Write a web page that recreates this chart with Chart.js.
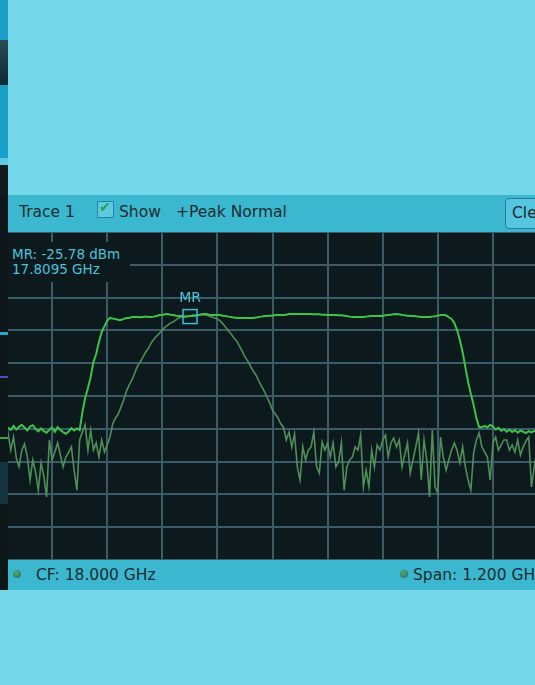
<!DOCTYPE html>
<html>
<head>
<meta charset="utf-8">
<script src="https://cdn.jsdelivr.net/npm/chart.js@4"></script>
<style>
  html, body { margin: 0; padding: 0; }
  body { width: 535px; height: 685px; overflow: hidden; position: relative; background: #74d8ea; font-family: "DejaVu Sans", sans-serif; }
  .abs { position: absolute; white-space: nowrap; }
  #strip { left: 0; top: 0; width: 8px; height: 685px; background: #1aa0c8; }
  #header { left: 8px; top: 195px; width: 527px; height: 37px; background: #3bb8cf; color: #1b2b30; font-size: 15.5px; }
  #footer { left: 8px; top: 560px; width: 527px; height: 30px; background: #3bb8cf; color: #1b2b30; font-size: 15.5px; overflow: hidden; }
  #plotwrap { left: 8px; top: 232px; width: 527px; height: 328px; overflow: hidden; background: #0d1a1d; }
  #chartbox { position: absolute; left: -11px; top: 0; width: 551px; height: 328px; }
  .chk { width: 15px; height: 15px; border: 1px solid #2b7fa8; background: #5ccbe0; }
  .led { width: 8px; height: 8px; border-radius: 50%; background: radial-gradient(circle at 40% 35%, #4fb060, #2f5e77); }
  #readout { left: 8px; top: 242px; width: 122px; height: 40px; background: #0d1a1d; color: #4cc2dc; font-size: 13.5px; line-height: 15px; padding-left: 4px; box-sizing: border-box; padding-top: 5px; }
</style>
</head>
<body>
<div id="strip" class="abs"></div>
<div class="abs" style="left:0;top:40px;width:8px;height:45px;background:linear-gradient(#2a4a55,#0f2a33);"></div>
<div class="abs" style="left:0;top:158px;width:8px;height:7px;background:#5fcbe2;"></div>
<div class="abs" style="left:0;top:165px;width:8px;height:30px;background:#111b1e;"></div>
<div class="abs" style="left:0;top:195px;width:8px;height:395px;background:#0d1719;"></div>
<div class="abs" style="left:0;top:332px;width:8px;height:3px;background:#2aa8d0;"></div>
<div class="abs" style="left:0;top:376px;width:8px;height:2px;background:#5a48b8;"></div>
<div class="abs" style="left:0;top:437px;width:8px;height:2px;background:#3aa050;"></div>
<div class="abs" style="left:0;top:462px;width:8px;height:42px;background:#143440;"></div>
<div class="abs" style="left:0;top:590px;width:8px;height:95px;background:#74d8ea;"></div>

<div id="header" class="abs">
  <span class="abs" style="left:11px;top:8px;">Trace 1</span>
  <div class="abs chk" style="left:89px;top:6px;"><span style="position:absolute;left:1px;top:-3px;color:#2aa04a;font-size:14px;">✔</span></div>
  <span class="abs" style="left:111px;top:8px;">Show</span>
  <span class="abs" style="left:168px;top:8px;">+Peak Normal</span>
  <div class="abs" style="left:497px;top:3px;width:60px;height:29px;border:1px solid #2a7a9e;border-radius:4px;background:#55c6de;">
    <span class="abs" style="left:6px;top:5px;">Clear</span>
  </div>
</div>

<div id="plotwrap" class="abs">
  <div id="chartbox"><canvas id="chart"></canvas></div>
</div>

<div id="readout" class="abs">MR: -25.78 dBm<br>17.8095 GHz</div>

<div id="footer" class="abs">
  <div class="abs led" style="left:5px;top:10px;"></div>
  <span class="abs" style="left:28px;top:6px;">CF: 18.000 GHz</span>
  <div class="abs led" style="left:392px;top:10px;"></div>
  <span class="abs" style="left:405px;top:6px;">Span: 1.200 GHz</span>
</div>

<script>
// sweep: 17.4 .. 18.6 GHz, 201 points
let freqStart = 17.4;
let freqStep = 0.006;

let xGridLines = [17.4, 17.52, 17.64, 17.76, 17.88, 18.0, 18.12, 18.24, 18.36, 18.48, 18.6];
let yGridLines = [-100, -90, -80, -70, -60, -50, -40, -30, -20, -10, 0];

// max hold trace (dBm)
let peakTrace = [
  -60.0, -59.5, -60.6, -59.8, -59.7, -60.3, -59.1, -60.2, -59.4, -58.8,
  -59.6, -60.5, -59.3, -58.9, -60.1, -60.8, -59.9, -60.7, -61.2, -60.3,
  -59.6, -60.9, -59.5, -60.4, -61.0, -61.5, -60.8, -59.8, -60.5, -59.9,
  -60.4, -54.9, -50.6, -47.6, -44.2, -39.6, -37.2, -33.5, -30.5, -28.7,
  -27.1, -26.2, -26.4, -26.5, -26.8, -26.8, -26.5, -26.2, -26.2, -25.9,
  -25.9, -25.9, -26.0, -25.9, -25.8, -25.9, -25.9, -25.8, -25.6, -25.3,
  -25.3, -25.1, -25.0, -25.2, -25.3, -25.5, -25.6, -25.6, -25.8, -25.8,
  -25.6, -25.6, -25.5, -25.3, -25.2, -25.0, -25.0, -25.2, -25.3, -25.3,
  -25.3, -25.3, -25.5, -25.6, -25.8, -25.9, -26.1, -26.2, -26.2, -26.2,
  -26.2, -26.2, -26.2, -26.2, -26.1, -25.9, -25.8, -25.6, -25.6, -25.5,
  -25.5, -25.3, -25.3, -25.3, -25.3, -25.2, -25.0, -25.0, -25.0, -25.0,
  -25.0, -25.0, -25.0, -25.0, -25.0, -25.1, -25.1, -25.1, -25.2, -25.2,
  -25.3, -25.3, -25.3, -25.3, -25.4, -25.4, -25.5, -25.6, -25.8, -25.9,
  -25.9, -25.9, -25.9, -25.9, -25.8, -25.7, -25.6, -25.6, -25.6, -25.5,
  -25.6, -25.4, -25.3, -25.2, -25.1, -25.0, -25.1, -25.3, -25.4, -25.5,
  -25.6, -25.6, -25.7, -25.8, -25.9, -25.9, -25.9, -25.9, -25.8, -25.7,
  -25.5, -25.3, -25.3, -25.4, -26.0, -26.5, -27.7, -29.9, -32.9, -36.6,
  -41.2, -45.7, -49.4, -52.7, -56.7, -59.5, -59.5, -59.1, -59.6, -58.8,
  -59.4, -60.2, -59.7, -60.6, -60.1, -60.9, -60.3, -61.0, -60.4, -61.2,
  -60.5, -60.9, -61.3, -60.7, -61.1, -60.6, -60.9, -61.2, -60.5, -60.8,
  -61.0
];

// live trace (dBm)
let liveTrace = [
  -63.4, -67.1, -62.2, -65.9, -61.3, -66.5, -62.5, -68.9, -71.6, -66.5,
  -64.6, -68.6, -75.6, -69.5, -73.2, -78.7, -70.4, -74.4, -80.8, -63.4,
  -69.5, -67.1, -64.3, -68.0, -71.6, -68.6, -67.1, -65.5, -72.6, -78.7,
  -63.4, -61.0, -58.8, -66.5, -60.4, -66.5, -64.3, -68.6, -63.4, -67.1,
  -64.9, -62.5, -58.5, -56.7, -55.5, -53.4, -51.2, -48.5, -46.6, -45.1,
  -43.0, -40.9, -39.6, -38.1, -36.6, -35.4, -33.8, -32.6, -31.7, -30.8,
  -29.9, -29.0, -28.4, -27.7, -27.4, -26.8, -26.2, -25.9, -25.9, -25.6,
  -25.6, -25.3, -25.3, -25.3, -25.0, -25.3, -25.3, -25.6, -25.9, -26.2,
  -26.5, -27.1, -28.0, -29.0, -30.2, -31.1, -32.3, -33.2, -34.8, -36.3,
  -38.1, -39.3, -40.9, -42.4, -43.6, -45.4, -47.0, -48.5, -50.3, -52.1,
  -54.3, -55.5, -56.7, -58.5, -59.5, -63.4, -61.0, -65.5, -61.6, -71.6,
  -75.6, -65.5, -69.5, -66.5, -65.5, -61.0, -71.6, -73.5, -64.0, -66.5,
  -64.3, -68.6, -64.3, -71.6, -70.1, -64.3, -78.7, -71.6, -69.5, -68.6,
  -65.5, -66.5, -61.9, -77.7, -72.6, -77.7, -66.5, -71.6, -64.9, -66.5,
  -63.4, -61.9, -68.6, -64.3, -62.8, -65.5, -63.4, -71.6, -68.0, -64.3,
  -73.5, -69.5, -65.5, -61.3, -75.6, -63.4, -69.5, -80.8, -60.4, -77.7,
  -79.6, -62.5, -68.6, -72.6, -69.5, -66.5, -64.3, -66.5, -70.4, -65.5,
  -71.6, -75.6, -78.7, -67.4, -63.4, -61.3, -65.5, -67.1, -68.6, -75.6,
  -64.3, -62.5, -66.5, -64.9, -63.4, -63.4, -66.5, -64.9, -67.1, -63.4,
  -68.0, -65.5, -63.7, -62.5, -77.7, -71.6, -66.5, -69.5, -64.9, -72.6,
  -67.1
];

let markerFreq = 17.8095;
let markerLevel = -25.78;
let markerName = "MR";

function toPoints(arr) {
    return arr.map((v, i) => ({ x: freqStart + i * freqStep, y: v }));
}

const plotBg = {
    id: "plotBg",
    beforeDraw(c) {
        let a = c.chartArea;
        c.ctx.save();
        c.ctx.fillStyle = "#0d1a1d";
        c.ctx.fillRect(a.left, a.top, a.right - a.left, a.bottom - a.top);
        c.ctx.restore();
    }
};

// marker box drawn a few px right of its frequency, like the analyzer does
const markerPlugin = {
    id: "marker",
    afterDatasetsDraw(c) {
        let ctx = c.ctx;
        let px = c.scales.x.getPixelForValue(markerFreq) + 5;
        let py = c.scales.y.getPixelForValue(markerLevel);
        ctx.save();
        ctx.strokeStyle = "#3cbcd8";
        ctx.lineWidth = 1.5;
        ctx.strokeRect(px - 7, py - 7, 14, 14);
        ctx.fillStyle = "#4cc2dc";
        ctx.font = "14px 'DejaVu Sans'";
        ctx.textAlign = "center";
        ctx.textBaseline = "bottom";
        ctx.fillText(markerName, px, py - 11);
        ctx.restore();
    }
};

let chart = new Chart(document.getElementById("chart"), {
    type: "line",
    data: {
        datasets: [
            {
                label: "Peak",
                data: toPoints(peakTrace),
                borderColor: "#3fc24a",
                borderWidth: 2,
                pointRadius: 0,
                tension: 0,
                order: 0
            },
            {
                label: "Live",
                data: toPoints(liveTrace),
                borderColor: "#4f8e58",
                borderWidth: 1.6,
                pointRadius: 0,
                tension: 0,
                order: 1
            }
        ]
    },
    options: {
        responsive: true,
        maintainAspectRatio: false,
        animation: false,
        layout: { padding: 0 },
        plugins: { legend: { display: false }, tooltip: { enabled: false } },
        scales: {
            x: {
                type: "linear",
                min: 17.4,
                max: 18.6,
                afterBuildTicks: s => { s.ticks = xGridLines.map(v => ({ value: v })); },
                ticks: { display: false },
                grid: { color: "#3b5b68", lineWidth: 2, drawTicks: false },
                border: { display: false }
            },
            y: {
                min: -100,
                max: 0,
                afterBuildTicks: s => { s.ticks = yGridLines.map(v => ({ value: v })); },
                ticks: { display: false },
                grid: { color: "#3b5b68", lineWidth: 2, drawTicks: false },
                border: { display: false }
            }
        }
    },
    plugins: [plotBg, markerPlugin]
});
</script>
</body>
</html>
